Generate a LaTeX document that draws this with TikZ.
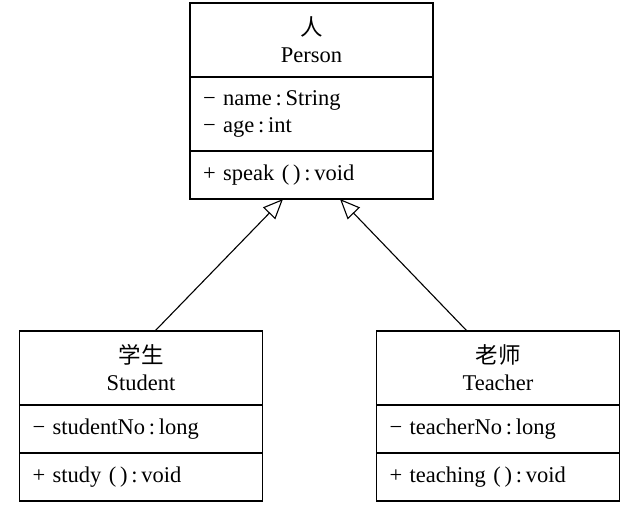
\documentclass[tikz,border=0pt]{standalone}
\usepackage{fontspec}
\setmainfont{Liberation Serif}
\newfontfamily\cjk{Noto Sans CJK SC}
\usetikzlibrary{positioning,arrows.meta}

\tikzset{
  umlbox/.style={draw, line width=1.5pt, outer sep=0pt, minimum width=243pt, inner sep=0pt},
  headpart/.style={umlbox, align=center, minimum height=74pt},
  listpart/.style={umlbox, align=left, text width=217pt, inner xsep=13pt},
  inherit/.style={line width=1.1pt, -{Triangle[open, length=20pt, width=17pt, line width=1.1pt]}}
}

\begin{document}
\begin{tikzpicture}[font=\fontsize{22.5}{27}\selectfont]
  \useasboundingbox (0pt,0pt) rectangle (633pt,-515pt);

  %% superclass
  \node[headpart] (per-head) at (311.5pt,-40pt) {{\cjk 人}\\Person};
  \node[listpart, minimum height=74pt, below=0pt of per-head] (per-attr)
    {− name\,:\,String\\− age\,:\,int};
  \node[listpart, minimum height=48pt, below=0pt of per-attr] (per-meth)
    {+ speak (\,)\,:\,void};

  %% subclass left
  \node[headpart] (stu-head) at (141pt,-368pt) {{\cjk 学生}\\Student};
  \node[listpart, minimum height=48pt, below=0pt of stu-head] (stu-attr)
    {− studentNo\,:\,long};
  \node[listpart, minimum height=48pt, below=0pt of stu-attr] (stu-meth)
    {+ study (\,)\,:\,void};

  %% subclass right
  \node[headpart] (tea-head) at (498pt,-368pt) {{\cjk 老师}\\Teacher};
  \node[listpart, minimum height=48pt, below=0pt of tea-head] (tea-attr)
    {− teacherNo\,:\,long};
  \node[listpart, minimum height=48pt, below=0pt of tea-attr] (tea-meth)
    {+ teaching (\,)\,:\,void};

  %% generalization
  \draw[inherit] ([xshift=14pt]stu-head.north) -- ([xshift=-28.5pt]per-meth.south);
  \draw[inherit] ([xshift=-31pt]tea-head.north) -- ([xshift=28.5pt]per-meth.south);

\end{tikzpicture}
\end{document}
